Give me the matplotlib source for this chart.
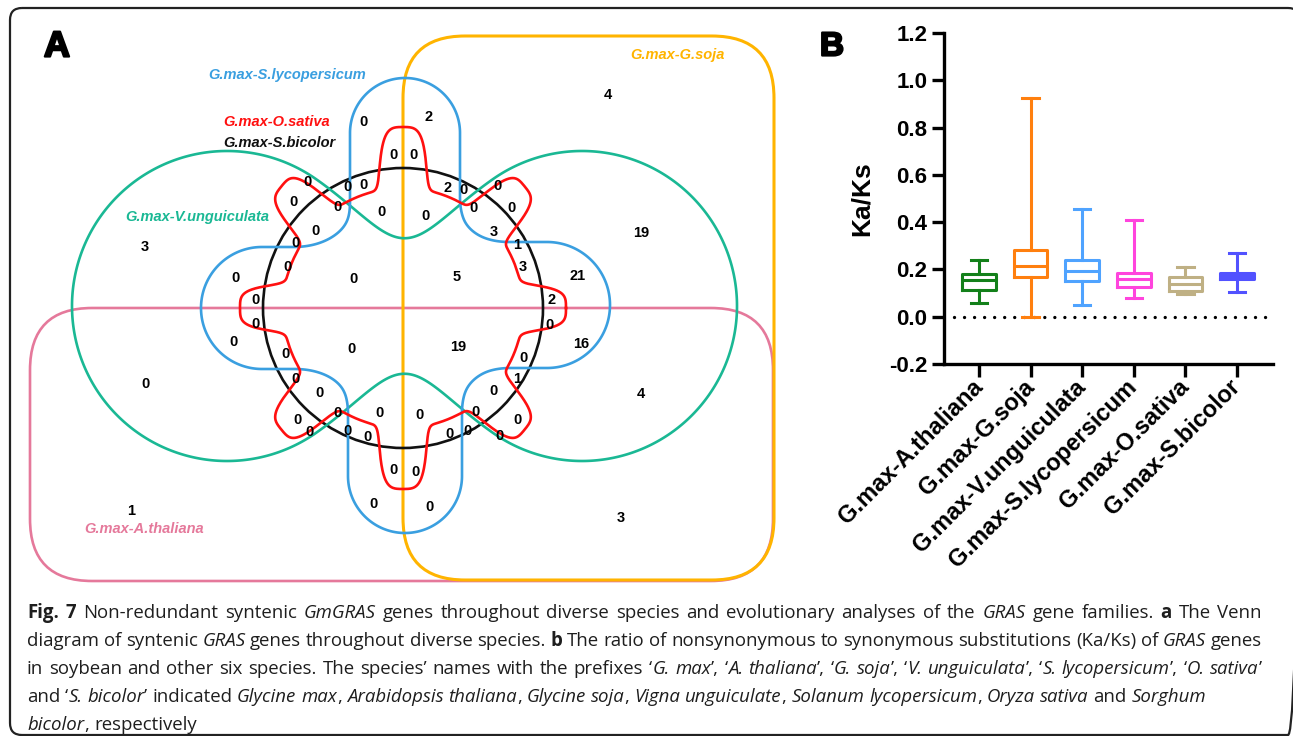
import numpy as np
import matplotlib
matplotlib.use("Agg")
import matplotlib.pyplot as plt
import matplotlib.patheffects as pe
from matplotlib.patches import FancyBboxPatch, Circle
from matplotlib import font_manager

W, H = 1293, 736

# ---------------- data ----------------
# panel B: Ka/Ks box plot (min, q1, median, q3, max)
pairs = ["G.max-A.thaliana", "G.max-G.soja", "G.max-V.unguiculata",
         "G.max-S.lycopersicum", "G.max-O.sativa", "G.max-S.bicolor"]
kaks_min = [0.059, 0.0, 0.049, 0.078, 0.096, 0.106]
kaks_q1 = [0.113, 0.170, 0.152, 0.124, 0.109, 0.161]
kaks_med = [0.155, 0.215, 0.195, 0.158, 0.138, 0.172]
kaks_q3 = [0.180, 0.282, 0.240, 0.186, 0.169, 0.186]
kaks_max = [0.240, 0.925, 0.456, 0.410, 0.209, 0.271]
box_colors = ["#13801a", "#ff7f0e", "#4fa3ff", "#ff44dd", "#bfb084", "#5252ff"]

# panel A: venn sets and the counts in each region
venn_sets = ["G.max-S.lycopersicum", "G.max-O.sativa", "G.max-S.bicolor",
             "G.max-V.unguiculata", "G.max-G.soja", "G.max-A.thaliana"]
set_colors = ["#3a9fe0", "#ff1010", "#111111", "#1ab894", "#ffb400", "#e5799b"]
region_counts = [0, 2, 4, 0, 0, 0, 0, 0, 2, 0, 0, 0, 0, 0, 0, 0, 0, 0, 0, 3,
                 3, 19, 1, 0, 3, 0, 0, 5, 21, 0, 2, 0, 0, 0, 0, 19, 16, 0, 0, 0,
                 1, 0, 0, 0, 4, 0, 0, 0, 0, 0, 0, 0, 0, 0, 0, 0, 0, 0, 0, 0,
                 0, 1, 3]

# where each count sits inside the drawing (pixels)
region_xy = [(363, 122), (429, 117), (608, 95), (393, 155), (413, 155), (308, 182),
             (347, 187), (363, 185), (448, 188), (463, 190), (497, 186), (293, 202),
             (337, 207), (382, 212), (426, 216), (473, 208), (512, 208), (315, 231),
             (296, 243), (494, 232), (145, 247), (641, 233), (517, 245), (287, 267),
             (523, 267), (235, 278), (353, 279), (457, 277), (578, 276), (255, 300),
             (552, 300), (255, 324), (549, 325), (233, 342), (352, 349), (458, 347),
             (581, 344), (285, 354), (524, 358), (295, 379), (517, 379), (145, 384),
             (319, 393), (493, 391), (641, 394), (338, 413), (380, 413), (420, 415),
             (476, 412), (518, 420), (297, 420), (309, 432), (347, 431), (367, 437),
             (450, 434), (467, 431), (500, 436), (393, 470), (416, 472), (373, 504),
             (429, 507), (131, 511), (621, 518)]
label_xy = [(287, 75), (277, 122), (279, 143), (197, 217), (677, 55), (144, 529)]

caption = [
    [("Fig. 7", "b"), (" Non-redundant syntenic ", "n"), ("GmGRAS", "i"),
     (" genes throughout diverse species and evolutionary analyses of the ", "n"),
     ("GRAS", "i"), (" gene families. ", "n"), ("a", "b"), (" The Venn", "n")],
    [("diagram of syntenic ", "n"), ("GRAS", "i"), (" genes throughout diverse species. ", "n"),
     ("b", "b"), (" The ratio of nonsynonymous to synonymous substitutions (Ka/Ks) of ", "n"),
     ("GRAS", "i"), (" genes", "n")],
    [("in soybean and other six species. The species\u2019 names with the prefixes \u2018", "n"),
     ("G. max", "i"), ("\u2019, \u2018", "n"), ("A. thaliana", "i"), ("\u2019, \u2018", "n"),
     ("G. soja", "i"), ("\u2019, \u2018", "n"), ("V. unguiculata", "i"), ("\u2019, \u2018", "n"),
     ("S. lycopersicum", "i"), ("\u2019, \u2018", "n"), ("O. sativa", "i"), ("\u2019", "n")],
    [("and \u2018", "n"), ("S. bicolor", "i"), ("\u2019 indicated ", "n"), ("Glycine max", "i"),
     (", ", "n"), ("Arabidopsis thaliana", "i"), (", ", "n"), ("Glycine soja", "i"), (", ", "n"),
     ("Vigna unguiculate", "i"), (", ", "n"), ("Solanum lycopersicum", "i"), (", ", "n"),
     ("Oryza sativa", "i"), (" and ", "n"), ("Sorghum", "i")],
    [("bicolor", "i"), (", respectively", "n")],
]

plt.rcParams['font.family'] = ['Liberation Sans', 'DejaVu Sans']
plt.rcParams['axes.unicode_minus'] = False

fig = plt.figure(figsize=(W / 100, H / 100), dpi=100)
ax = fig.add_axes([0, 0, 1, 1])
ax.set_xlim(0, W)
ax.set_ylim(H, 0)
ax.axis('off')

# outer frame
ax.add_patch(FancyBboxPatch((10, 8), 1290, 727, boxstyle="round,pad=0,rounding_size=12",
                            fill=False, ec="#222222", lw=1.6))

# ---------------- panel A: venn ----------------
gx, gy = np.meshgrid(np.arange(0, 800, 1.0), np.arange(0, 620, 1.0))


def circle_sdf(cx, cy, r):
    return np.hypot(gx - cx, gy - cy) - r


def capsule_sdf(x0, y0, x1, y1, r):
    px, py = gx - x0, gy - y0
    bx, by = x1 - x0, y1 - y0
    h = np.clip((px * bx + py * by) / (bx * bx + by * by), 0, 1)
    return np.hypot(px - bx * h, py - by * h) - r


def smin(a, b, k):
    h = np.clip(0.5 + 0.5 * (b - a) / k, 0, 1)
    return b * (1 - h) + a * h - k * h * (1 - h)


lw_v = 1.9
# A.thaliana and G.soja rounded boxes
ax.add_patch(FancyBboxPatch((30, 308), 743, 273, boxstyle="round,pad=0,rounding_size=62",
                            fill=False, ec=set_colors[5], lw=lw_v))
ax.add_patch(FancyBboxPatch((403, 36), 371, 544, boxstyle="round,pad=0,rounding_size=62",
                            fill=False, ec=set_colors[4], lw=lw_v + 0.3))

# V.unguiculata: two lobes joined by a neck
teal = smin(circle_sdf(227, 306, 155), circle_sdf(582, 306, 155), 140)
ax.contour(gx, gy, teal, levels=[0], colors=[set_colors[3]], linewidths=lw_v)

# S.lycopersicum: four rounded arms
blue = capsule_sdf(405, 306, 405, 133, 55)
for arm in [(405, 306, 405, 476, 57), (405, 305, 547, 305, 63), (405, 308, 262, 308, 61)]:
    blue = smin(blue, capsule_sdf(*arm), 45)
ax.contour(gx, gy, blue, levels=[0], colors=[set_colors[0]], linewidths=lw_v)

# S.bicolor: circle
ax.add_patch(Circle((403, 308), 140, fill=False, ec=set_colors[2], lw=lw_v))

# O.sativa: ring with eight round-topped bumps
th = np.linspace(0, 2 * np.pi, 2400)
peak = 163 + 18 * np.sin(th) ** 2
dlt = np.degrees(np.abs(((th + np.pi / 8) % (np.pi / 4)) - np.pi / 8))
rr = 120 + (peak - 120) * np.exp(-(dlt / 9.5) ** 4)
ax.plot(403 + rr * np.cos(th), 308 - rr * np.sin(th), color=set_colors[1], lw=lw_v)

for name, (x, y), c in zip(venn_sets, label_xy, set_colors):
    ax.text(x, y, name, color=c, fontsize=10.5, fontweight='bold', fontstyle='italic',
            ha='center', va='center')

for n, (x, y) in zip(region_counts, region_xy):
    ax.text(x, y, str(n), fontsize=10.5, fontweight='bold', ha='center', va='center', zorder=5)

heavy = [pe.withStroke(linewidth=1.6, foreground='black')]
ax.text(57, 47, "A", fontsize=26, fontweight='bold', ha='center', va='center', path_effects=heavy)
ax.text(832, 47, "B", fontsize=24, fontweight='bold', ha='center', va='center', path_effects=heavy)

# ---------------- panel B: Ka/Ks ----------------
axb = fig.add_axes([944 / W, (H - 364) / H, (1273 - 944) / W, (364 - 33) / H])
axb.set_facecolor('none')
stats = [dict(whislo=a, q1=b, med=c, q3=d, whishi=e, label=n)
         for a, b, c, d, e, n in zip(kaks_min, kaks_q1, kaks_med, kaks_q3, kaks_max, pairs)]
lwb = 2.2
bp = axb.bxp(stats, positions=range(len(pairs)), widths=0.65, capwidths=0.32,
             showfliers=False, manage_ticks=False,
             boxprops=dict(lw=lwb), whiskerprops=dict(lw=lwb),
             capprops=dict(lw=lwb), medianprops=dict(lw=lwb))
for i, c in enumerate(box_colors):
    bp['boxes'][i].set_color(c)
    bp['medians'][i].set_color(c)
    for art in bp['whiskers'][2 * i:2 * i + 2] + bp['caps'][2 * i:2 * i + 2]:
        art.set_color(c)

axb.axhline(0, xmin=0.03, xmax=1.0, color='black', lw=2.4, ls=(0, (0.01, 3)),
            dash_capstyle='round', zorder=0)
axb.set_xlim(-0.68, 5.7)
axb.set_ylim(-0.2, 1.2)
axb.set_yticks(np.arange(-0.2, 1.21, 0.2))
axb.set_yticklabels([f"{v:.1f}" for v in np.arange(-0.2, 1.21, 0.2)],
                    fontsize=16, fontweight='bold')
axb.set_xticks(range(len(pairs)))
axb.set_xticklabels(pairs, rotation=45, ha='right', va='center', rotation_mode='anchor',
                    fontsize=17, fontweight='bold')
for s in ['top', 'right']:
    axb.spines[s].set_visible(False)
for s in ['left', 'bottom']:
    axb.spines[s].set_linewidth(2.4)
axb.tick_params(axis='both', length=9, width=2.4)
axb.tick_params(axis='y', pad=3)
axb.tick_params(axis='x', pad=5)
axb.set_ylabel("Ka/Ks", fontsize=19, fontweight='bold')
axb.yaxis.set_label_coords(-0.215, 0.5)

# ---------------- caption ----------------
cap_font = 'Liberation Sans'
for fam in ['Open Sans', 'Noto Sans', 'Lato']:
    if any(f.name == fam and f.style == 'italic' for f in font_manager.fontManager.ttflist):
        cap_font = fam
        break
style_kw = {"n": {}, "i": {"fontstyle": "italic"}, "b": {"fontweight": "bold"}}
renderer = fig.canvas.get_renderer()


def text_w(s, size, st):
    t = ax.text(0, 0, s, fontsize=size, family=cap_font, **style_kw[st])
    w = t.get_window_extent(renderer).width
    t.remove()
    return w


def adv_w(s, size, st):
    # advance width, measured between two plain letters so slant overhang is ignored
    return text_w('x' + s + 'x', size, st) - text_w('xx', size, st)


def tokens(runs):
    out = []
    for txt, st in runs:
        for i, p in enumerate(txt.split(' ')):
            if i > 0:
                out.append((None, st))
            if p:
                out.append((p, st))
    return out


def line_widths(runs, size):
    sp = adv_w(' ', size, 'n')
    toks = tokens(runs)
    return toks, [adv_w(t, size, st) if t else sp for t, st in toks]


x0, x1 = 27, 1262
# size chosen so the widest of the full lines just fits with normal spacing
widest = max(sum(line_widths(runs, 13)[1]) for runs in caption[:3])
cap_size = 13 * (x1 - x0) / widest
baselines = [618, 646, 674, 702, 730]
for k, (runs, yb) in enumerate(zip(caption, baselines)):
    toks, ws = line_widths(runs, cap_size)
    nsp = sum(1 for t, _ in toks if t is None)
    extra = (x1 - x0 - sum(ws)) / nsp if k < 3 else 0
    x = x0
    for (t, st), w in zip(toks, ws):
        if t is None:
            x += w + extra
        else:
            ax.text(x, yb, t, fontsize=cap_size, family=cap_font, va='baseline',
                    ha='left', color='#1e1e1e', **style_kw[st])
            x += w

fig.savefig("out.png", dpi=100)
